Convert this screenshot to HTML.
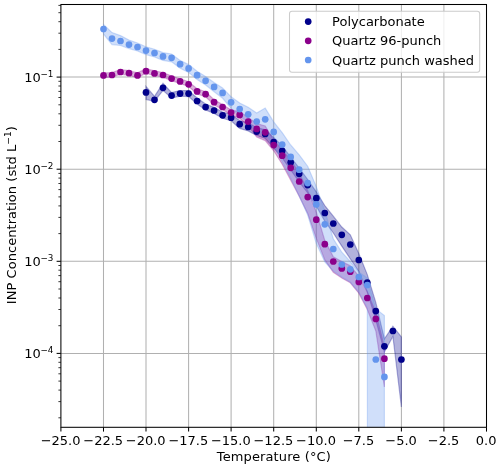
<!DOCTYPE html>
<html><head><meta charset="utf-8"><title>INP Concentration</title>
<style>html,body{margin:0;padding:0;background:#fff}svg{display:block}text{font-family:"DejaVu Sans","Liberation Sans",sans-serif;fill:#000}</style>
</head><body>
<svg width="500" height="469" viewBox="0 0 500 469">
<rect width="500" height="469" fill="#fff"/>
<clipPath id="ax"><rect x="60.9" y="4.5" width="425.6" height="422.8"/></clipPath>
<g stroke="#b0b0b0" stroke-width="1.04" fill="none">
<path d="M103.5,4.5V427.3"/>
<path d="M146.0,4.5V427.3"/>
<path d="M188.6,4.5V427.3"/>
<path d="M231.1,4.5V427.3"/>
<path d="M273.7,4.5V427.3"/>
<path d="M316.3,4.5V427.3"/>
<path d="M358.8,4.5V427.3"/>
<path d="M401.4,4.5V427.3"/>
<path d="M443.9,4.5V427.3"/>
<path d="M60.9,77.1H486.5"/>
<path d="M60.9,169.2H486.5"/>
<path d="M60.9,261.3H486.5"/>
<path d="M60.9,353.4H486.5"/>
</g>
<g clip-path="url(#ax)">
<path d="M146.0,86.4 L154.5,96.3 L163.0,83.3 L171.6,92.6 L180.1,90.6 L188.6,90.6 L197.1,98.0 L205.6,104.0 L214.1,107.4 L222.6,112.0 L231.1,114.5 L239.7,120.5 L248.2,123.0 L256.7,127.5 L265.2,129.8 L273.7,137.5 L282.2,146.0 L290.7,157.0 L299.2,168.0 L307.7,179.5 L316.3,191.8 L324.8,205.6 L333.3,216.2 L341.8,227.0 L350.3,234.8 L358.8,253.5 L367.3,274.6 L375.8,302.5 L384.4,338.8 L392.9,326.2 L401.4,337.0 L401.4,407.0 L392.9,336.4 L384.4,352.0 L375.8,320.0 L367.3,292.0 L358.8,271.5 L350.3,258.8 L341.8,246.2 L333.3,233.0 L324.8,221.2 L316.3,206.2 L307.7,193.0 L299.2,182.0 L290.7,170.0 L282.2,158.0 L273.7,148.0 L265.2,138.5 L256.7,135.5 L248.2,131.0 L239.7,128.4 L231.1,120.8 L222.6,118.2 L214.1,113.4 L205.6,110.0 L197.1,104.0 L188.6,96.6 L180.1,96.2 L171.6,98.1 L163.0,90.4 L154.5,101.3 L146.0,99.6Z" fill="#00008b" fill-opacity="0.3" stroke="#00008b" stroke-opacity="0.3" stroke-width="1.2" stroke-linejoin="miter"/>
<path d="M103.5,72.9 L112.0,72.5 L120.5,69.5 L129.0,70.7 L137.5,72.9 L146.0,68.7 L154.5,70.9 L163.0,72.5 L171.6,76.1 L180.1,78.9 L188.6,81.8 L197.1,88.8 L205.6,91.7 L214.1,99.7 L222.6,104.5 L231.1,110.1 L239.7,111.6 L248.2,117.6 L256.7,123.5 L265.2,126.0 L273.7,140.0 L282.2,150.0 L290.7,160.0 L299.2,173.0 L307.7,190.6 L316.3,212.0 L324.8,240.4 L333.3,256.8 L341.8,261.6 L350.3,265.8 L358.8,276.0 L367.3,292.0 L375.8,312.0 L384.4,347.0 L384.4,387.0 L375.8,331.0 L367.3,309.5 L358.8,293.2 L350.3,282.8 L341.8,278.1 L333.3,272.2 L324.8,259.9 L316.3,238.4 L307.7,213.4 L299.2,196.2 L290.7,180.1 L282.2,164.3 L273.7,150.8 L265.2,140.6 L256.7,137.0 L248.2,126.0 L239.7,118.2 L231.1,115.1 L222.6,109.5 L214.1,104.7 L205.6,96.7 L197.1,94.0 L188.6,86.4 L180.1,83.5 L171.6,80.7 L163.0,77.1 L154.5,75.5 L146.0,73.3 L137.5,77.5 L129.0,75.3 L120.5,74.1 L112.0,77.1 L103.5,77.5Z" fill="#8b008b" fill-opacity="0.3" stroke="#8b008b" stroke-opacity="0.3" stroke-width="1.2" stroke-linejoin="miter"/>
<path d="M103.5,24.5 L112.0,32.6 L120.5,35.6 L129.0,40.1 L137.5,43.0 L146.0,46.8 L154.5,49.2 L163.0,52.6 L171.6,54.0 L180.1,60.4 L188.6,64.6 L197.1,71.2 L205.6,76.4 L214.1,82.4 L222.6,87.9 L231.1,96.8 L239.7,103.1 L248.2,107.3 L256.7,113.0 L265.2,108.1 L273.7,121.9 L282.2,132.6 L290.7,145.0 L299.2,154.8 L307.7,166.2 L316.3,186.6 L324.8,211.0 L333.3,238.8 L341.8,252.2 L350.3,261.5 L358.8,272.0 L367.3,278.0 L375.8,309.0 L384.4,315.5 L384.4,9000.0 L375.8,9000.0 L367.3,308.0 L358.8,292.0 L350.3,282.0 L341.8,277.0 L333.3,271.0 L324.8,262.0 L316.3,243.6 L307.7,215.0 L299.2,196.0 L290.7,178.0 L282.2,161.8 L273.7,145.3 L265.2,133.9 L256.7,131.9 L248.2,122.5 L239.7,115.9 L231.1,108.4 L222.6,98.3 L214.1,91.7 L205.6,85.0 L197.1,79.4 L188.6,72.4 L180.1,68.2 L171.6,61.8 L163.0,60.4 L154.5,57.0 L146.0,54.6 L137.5,51.0 L129.0,48.6 L120.5,45.5 L112.0,44.6 L103.5,34.0Z" fill="#6495ed" fill-opacity="0.3" stroke="#6495ed" stroke-opacity="0.3" stroke-width="1.2" stroke-linejoin="miter"/>
<g fill="#00008b">
<circle cx="146.0" cy="92.4" r="3.35"/>
<circle cx="154.5" cy="99.8" r="3.35"/>
<circle cx="163.0" cy="87.8" r="3.35"/>
<circle cx="171.6" cy="95.6" r="3.35"/>
<circle cx="180.1" cy="93.6" r="3.35"/>
<circle cx="188.6" cy="93.6" r="3.35"/>
<circle cx="197.1" cy="101.0" r="3.35"/>
<circle cx="205.6" cy="107.1" r="3.35"/>
<circle cx="214.1" cy="110.5" r="3.35"/>
<circle cx="222.6" cy="115.3" r="3.35"/>
<circle cx="231.1" cy="117.7" r="3.35"/>
<circle cx="239.7" cy="124.2" r="3.35"/>
<circle cx="248.2" cy="127.0" r="3.35"/>
<circle cx="256.7" cy="131.6" r="3.35"/>
<circle cx="265.2" cy="133.9" r="3.35"/>
<circle cx="273.7" cy="142.0" r="3.35"/>
<circle cx="282.2" cy="150.8" r="3.35"/>
<circle cx="290.7" cy="162.3" r="3.35"/>
<circle cx="299.2" cy="173.8" r="3.35"/>
<circle cx="307.7" cy="185.1" r="3.35"/>
<circle cx="316.3" cy="198.2" r="3.35"/>
<circle cx="324.8" cy="213.0" r="3.35"/>
<circle cx="333.3" cy="223.5" r="3.35"/>
<circle cx="341.8" cy="234.8" r="3.35"/>
<circle cx="350.3" cy="244.5" r="3.35"/>
<circle cx="358.8" cy="260.0" r="3.35"/>
<circle cx="367.3" cy="282.6" r="3.35"/>
<circle cx="375.8" cy="311.1" r="3.35"/>
<circle cx="384.4" cy="346.3" r="3.35"/>
<circle cx="392.9" cy="331.0" r="3.35"/>
<circle cx="401.4" cy="359.5" r="3.35"/>
</g>
<g fill="#8b008b">
<circle cx="103.5" cy="75.4" r="3.35"/>
<circle cx="112.0" cy="75.0" r="3.35"/>
<circle cx="120.5" cy="72.0" r="3.35"/>
<circle cx="129.0" cy="73.2" r="3.35"/>
<circle cx="137.5" cy="75.4" r="3.35"/>
<circle cx="146.0" cy="71.2" r="3.35"/>
<circle cx="154.5" cy="73.4" r="3.35"/>
<circle cx="163.0" cy="75.0" r="3.35"/>
<circle cx="171.6" cy="78.6" r="3.35"/>
<circle cx="180.1" cy="81.4" r="3.35"/>
<circle cx="188.6" cy="84.3" r="3.35"/>
<circle cx="197.1" cy="91.4" r="3.35"/>
<circle cx="205.6" cy="94.2" r="3.35"/>
<circle cx="214.1" cy="102.2" r="3.35"/>
<circle cx="222.6" cy="107.0" r="3.35"/>
<circle cx="231.1" cy="112.6" r="3.35"/>
<circle cx="239.7" cy="114.9" r="3.35"/>
<circle cx="248.2" cy="121.6" r="3.35"/>
<circle cx="256.7" cy="128.9" r="3.35"/>
<circle cx="265.2" cy="132.3" r="3.35"/>
<circle cx="273.7" cy="145.1" r="3.35"/>
<circle cx="282.2" cy="155.7" r="3.35"/>
<circle cx="290.7" cy="167.8" r="3.35"/>
<circle cx="299.2" cy="181.5" r="3.35"/>
<circle cx="307.7" cy="197.1" r="3.35"/>
<circle cx="316.3" cy="219.7" r="3.35"/>
<circle cx="324.8" cy="244.2" r="3.35"/>
<circle cx="333.3" cy="261.5" r="3.35"/>
<circle cx="341.8" cy="268.4" r="3.35"/>
<circle cx="350.3" cy="271.7" r="3.35"/>
<circle cx="358.8" cy="281.9" r="3.35"/>
<circle cx="367.3" cy="298.0" r="3.35"/>
<circle cx="375.8" cy="318.9" r="3.35"/>
<circle cx="384.4" cy="358.7" r="3.35"/>
</g>
<g fill="#6495ed">
<circle cx="103.5" cy="29.0" r="3.35"/>
<circle cx="112.0" cy="38.6" r="3.35"/>
<circle cx="120.5" cy="41.0" r="3.35"/>
<circle cx="129.0" cy="44.6" r="3.35"/>
<circle cx="137.5" cy="47.0" r="3.35"/>
<circle cx="146.0" cy="50.6" r="3.35"/>
<circle cx="154.5" cy="53.0" r="3.35"/>
<circle cx="163.0" cy="56.4" r="3.35"/>
<circle cx="171.6" cy="57.8" r="3.35"/>
<circle cx="180.1" cy="64.2" r="3.35"/>
<circle cx="188.6" cy="68.4" r="3.35"/>
<circle cx="197.1" cy="75.2" r="3.35"/>
<circle cx="205.6" cy="80.8" r="3.35"/>
<circle cx="214.1" cy="86.9" r="3.35"/>
<circle cx="222.6" cy="92.9" r="3.35"/>
<circle cx="231.1" cy="102.3" r="3.35"/>
<circle cx="239.7" cy="109.1" r="3.35"/>
<circle cx="248.2" cy="114.3" r="3.35"/>
<circle cx="256.7" cy="121.5" r="3.35"/>
<circle cx="265.2" cy="119.3" r="3.35"/>
<circle cx="273.7" cy="131.9" r="3.35"/>
<circle cx="282.2" cy="144.5" r="3.35"/>
<circle cx="290.7" cy="156.9" r="3.35"/>
<circle cx="299.2" cy="169.7" r="3.35"/>
<circle cx="307.7" cy="183.1" r="3.35"/>
<circle cx="316.3" cy="204.4" r="3.35"/>
<circle cx="324.8" cy="224.3" r="3.35"/>
<circle cx="333.3" cy="249.0" r="3.35"/>
<circle cx="341.8" cy="264.5" r="3.35"/>
<circle cx="350.3" cy="269.3" r="3.35"/>
<circle cx="358.8" cy="277.0" r="3.35"/>
<circle cx="367.3" cy="285.0" r="3.35"/>
<circle cx="375.8" cy="359.5" r="3.35"/>
<circle cx="384.4" cy="376.9" r="3.35"/>
</g>
</g>
<rect x="60.9" y="4.5" width="425.6" height="422.8" fill="none" stroke="#000" stroke-width="1.04"/>
<g stroke="#000" stroke-width="1.04">
<path d="M60.9,427.3v4.3"/>
<path d="M103.5,427.3v4.3"/>
<path d="M146.0,427.3v4.3"/>
<path d="M188.6,427.3v4.3"/>
<path d="M231.1,427.3v4.3"/>
<path d="M273.7,427.3v4.3"/>
<path d="M316.3,427.3v4.3"/>
<path d="M358.8,427.3v4.3"/>
<path d="M401.4,427.3v4.3"/>
<path d="M443.9,427.3v4.3"/>
<path d="M486.5,427.3v4.3"/>
<path d="M60.9,77.1h-4.3"/>
<path d="M60.9,169.2h-4.3"/>
<path d="M60.9,261.3h-4.3"/>
<path d="M60.9,353.4h-4.3"/>
</g>
<g stroke="#000" stroke-width="0.78">
<path d="M60.9,417.8h-2.5"/>
<path d="M60.9,401.6h-2.5"/>
<path d="M60.9,390.1h-2.5"/>
<path d="M60.9,381.1h-2.5"/>
<path d="M60.9,373.8h-2.5"/>
<path d="M60.9,367.7h-2.5"/>
<path d="M60.9,362.3h-2.5"/>
<path d="M60.9,357.6h-2.5"/>
<path d="M60.9,325.7h-2.5"/>
<path d="M60.9,309.5h-2.5"/>
<path d="M60.9,298.0h-2.5"/>
<path d="M60.9,289.0h-2.5"/>
<path d="M60.9,281.7h-2.5"/>
<path d="M60.9,275.6h-2.5"/>
<path d="M60.9,270.2h-2.5"/>
<path d="M60.9,265.5h-2.5"/>
<path d="M60.9,233.6h-2.5"/>
<path d="M60.9,217.4h-2.5"/>
<path d="M60.9,205.9h-2.5"/>
<path d="M60.9,196.9h-2.5"/>
<path d="M60.9,189.6h-2.5"/>
<path d="M60.9,183.5h-2.5"/>
<path d="M60.9,178.1h-2.5"/>
<path d="M60.9,173.4h-2.5"/>
<path d="M60.9,141.5h-2.5"/>
<path d="M60.9,125.3h-2.5"/>
<path d="M60.9,113.8h-2.5"/>
<path d="M60.9,104.8h-2.5"/>
<path d="M60.9,97.5h-2.5"/>
<path d="M60.9,91.4h-2.5"/>
<path d="M60.9,86.0h-2.5"/>
<path d="M60.9,81.3h-2.5"/>
<path d="M60.9,49.4h-2.5"/>
<path d="M60.9,33.2h-2.5"/>
<path d="M60.9,21.7h-2.5"/>
<path d="M60.9,12.7h-2.5"/>
<path d="M60.9,5.4h-2.5"/>
</g>
<g font-size="13" text-anchor="middle">
<text x="60.6" y="444.8">−25.0</text>
<text x="103.2" y="444.8">−22.5</text>
<text x="145.7" y="444.8">−20.0</text>
<text x="188.3" y="444.8">−17.5</text>
<text x="230.8" y="444.8">−15.0</text>
<text x="273.4" y="444.8">−12.5</text>
<text x="316.0" y="444.8">−10.0</text>
<text x="358.5" y="444.8">−7.5</text>
<text x="401.1" y="444.8">−5.0</text>
<text x="443.6" y="444.8">−2.5</text>
<text x="486.2" y="444.8">0.0</text>
</g>
<text x="24.3" y="81.7" font-size="13">10<tspan font-size="8.8" dx="-0.4" dy="-4.9">−1</tspan></text>
<text x="24.3" y="173.8" font-size="13">10<tspan font-size="8.8" dx="-0.4" dy="-4.9">−2</tspan></text>
<text x="24.3" y="265.9" font-size="13">10<tspan font-size="8.8" dx="-0.4" dy="-4.9">−3</tspan></text>
<text x="24.3" y="358.0" font-size="13">10<tspan font-size="8.8" dx="-0.4" dy="-4.9">−4</tspan></text>
<text x="273.8" y="460.7" font-size="13" text-anchor="middle" textLength="114" lengthAdjust="spacing">Temperature (°C)</text>
<text transform="translate(15.7,215.2) rotate(-90)" font-size="13" text-anchor="middle" textLength="178" lengthAdjust="spacing">INP Concentration (std L<tspan font-size="9.1" dy="-4.9">−1</tspan><tspan dy="4.9">)</tspan></text>
<rect x="289.5" y="11.3" width="190.2" height="60.9" rx="2.5" ry="2.5" fill="#fff" fill-opacity="0.8" stroke="#ccc" stroke-width="1.04"/>
<circle cx="308.2" cy="21.6" r="3.35" fill="#00008b"/>
<text x="332.1" y="26.1" font-size="13">Polycarbonate</text>
<circle cx="308.2" cy="40.8" r="3.35" fill="#8b008b"/>
<text x="332.1" y="45.3" font-size="13">Quartz 96-punch</text>
<circle cx="308.2" cy="60.0" r="3.35" fill="#6495ed"/>
<text x="332.1" y="64.5" font-size="13">Quartz punch washed</text>
</svg>
</body></html>
